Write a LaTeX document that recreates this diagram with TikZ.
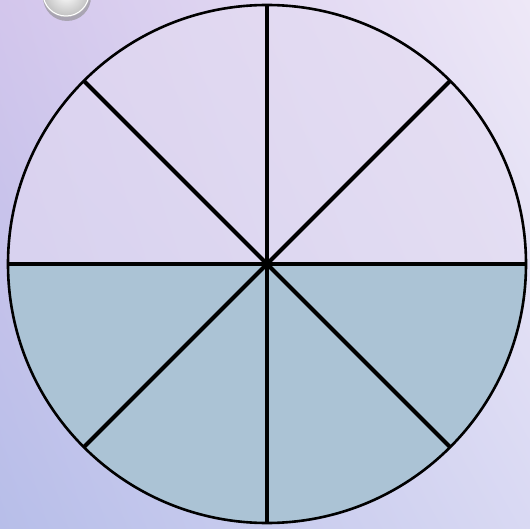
\documentclass[tikz,border=0pt]{standalone}
\usepackage[dvipsnames,svgnames]{xcolor}
\usepackage{tikz}
\usetikzlibrary{calc, shadings}

\definecolor{bgTopLeft}{HTML}{D3C6EC}
\definecolor{bgTopRight}{HTML}{EEE8F7}
\definecolor{bgBotLeft}{HTML}{B7BEE9}
\definecolor{bgBotRight}{HTML}{D9D9F3}
\definecolor{shadedHalf}{HTML}{ABC3D5}
\definecolor{paleHalf}{HTML}{E4DCF2}

\tikzset{
  rim/.style={line width=2.6pt, black},
  spoke/.style={line width=4.2pt, black}
}

\begin{document}
\begin{tikzpicture}[x=1pt, y=-1pt]
  \useasboundingbox (0,0) rectangle (530,529);

  % Background
  \shade[upper left=bgTopLeft, upper right=bgTopRight,
         lower left=bgBotLeft, lower right=bgBotRight] (0,0) rectangle (530,529);

  % Button in the corner
  \fill[black!45, opacity=0.6] (67,-3) circle (24);
  \shade[inner color=white, outer color=black!25] (66,-7) circle (24);
  \draw[white, line width=1pt] (66,-7) circle (23);

  % Circle halves (y axis points down, so angles run clockwise)
  \coordinate (c) at (267,264);
  \def\r{259}
  \fill[paleHalf, opacity=0.6] ($(c)+(-\r,0)$) arc[start angle=-180, end angle=0, radius=\r] -- cycle;
  \fill[shadedHalf] ($(c)+(-\r,0)$) arc[start angle=180, end angle=0, radius=\r] -- cycle;

  % Spokes
  \foreach \ang in {0,45,...,315} {
    \draw[spoke] (c) -- ++(\ang:\r);
  }

  % Rim
  \draw[rim] (c) circle (\r);

\end{tikzpicture}
\end{document}
